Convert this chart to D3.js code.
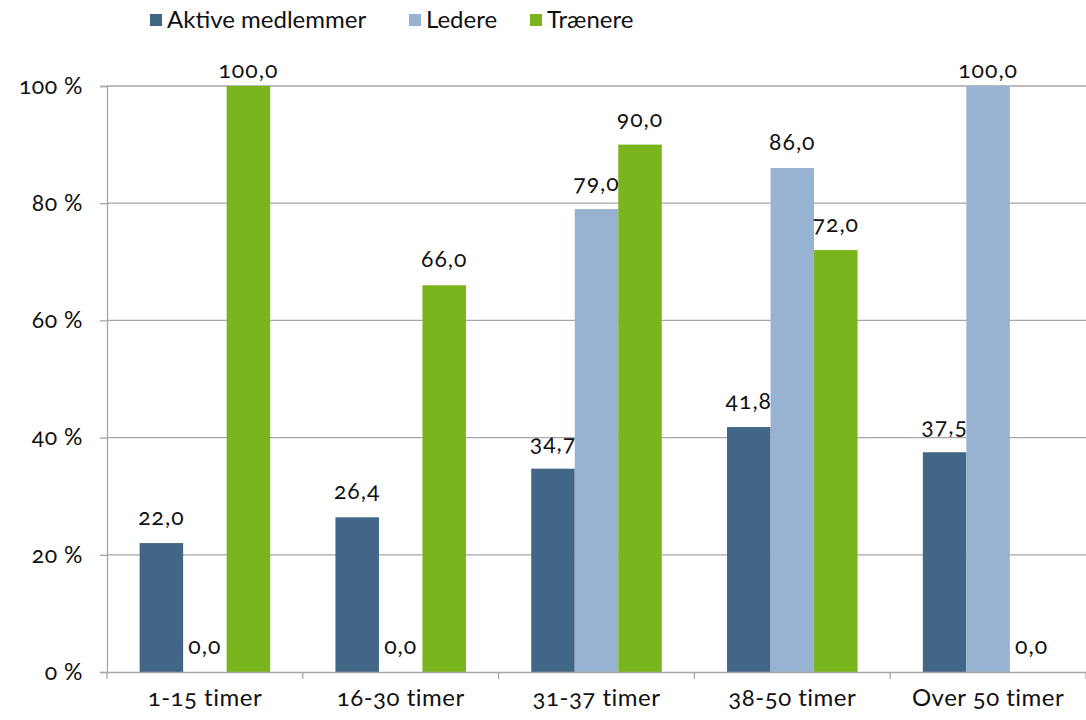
<!DOCTYPE html>
<html>
<head>
<meta charset="utf-8">
<script src="https://cdn.jsdelivr.net/npm/d3@7"></script>
<style>
  body { margin: 0; background: #fff; }
  svg text { font-family: Lato, "Open Sans", sans-serif; font-variant-numeric: oldstyle-nums; fill: #111; }
</style>
</head>
<body>
<div id="chart"></div>
<script>
// Chart data
var categories = ['1-15 timer', '16-30 timer', '31-37 timer', '38-50 timer', 'Over 50 timer'];
var seriesNames = ['Aktive medlemmer', 'Ledere', 'Trænere'];
var aktive = [22.0, 26.4, 34.7, 41.8, 37.5];
var ledere = [0.0, 0.0, 79.0, 86.0, 100.0];
var traenere = [100.0, 66.0, 90.0, 72.0, 0.0];
var yTicks = [0, 20, 40, 60, 80, 100];
var colors = ['#426686', '#98b2d2', '#7ab51d'];

(function() {
  var w = 1086, h = 720;
  var m = { top: 86, right: 0, bottom: 48, left: 107 };
  var series = [aktive, ledere, traenere];

  var svg = d3.select('#chart').append('svg').attr('width', w).attr('height', h);

  var x = d3.scaleBand().domain(categories).range([m.left, w - m.right]);
  var xi = d3.scaleBand().domain(d3.range(series.length))
    .range([0, x.bandwidth()]).paddingInner(0).paddingOuter(0.75);
  var y = d3.scaleLinear().domain([0, 100]).range([h - m.bottom, m.top]);

  // Gridlines
  svg.append('g').selectAll('line').data(yTicks.filter(function(d) { return d > 0; }))
    .enter().append('line')
    .attr('x1', m.left).attr('x2', w - m.right)
    .attr('y1', function(d) { return y(d); }).attr('y2', function(d) { return y(d); })
    .attr('stroke', '#a6a6a6').attr('stroke-width', 1.3);

  // Y axis
  var yAxis = svg.append('g').attr('transform', 'translate(' + m.left + ',0)')
    .call(d3.axisLeft(y).tickValues(yTicks).tickSize(7).tickPadding(17)
      .tickFormat(function(d) { return d + ' %'; }));
  yAxis.selectAll('line, path').attr('stroke', '#a6a6a6').attr('stroke-width', 1.3);
  yAxis.selectAll('text').attr('font-size', 23).attr('font-family', null).attr('letter-spacing', 0.5);

  // Bars
  var groups = svg.append('g').selectAll('g').data(categories).enter().append('g')
    .attr('transform', function(d) { return 'translate(' + x(d) + ',0)'; });

  groups.selectAll('rect').data(function(d, i) {
      return series.map(function(s, k) { return { k: k, v: s[i] }; });
    })
    .enter().append('rect')
    .attr('x', function(d) { return xi(d.k); })
    .attr('width', xi.bandwidth())
    .attr('y', function(d) { return y(d.v); })
    .attr('height', function(d) { return y(0) - y(d.v); })
    .attr('fill', function(d) { return colors[d.k]; });

  // Value labels (kept inside the chart area at the top)
  groups.selectAll('text').data(function(d, i) {
      return series.map(function(s, k) { return { k: k, v: s[i] }; });
    })
    .enter().append('text')
    .attr('x', function(d) { return xi(d.k) + xi.bandwidth() / 2; })
    .attr('y', function(d) { return Math.max(y(d.v) - 18, m.top - 8); })
    .attr('text-anchor', 'middle')
    .attr('font-size', 23).attr('letter-spacing', 1)
    .text(function(d) { return d.v.toFixed(1).replace('.', ','); });

  // X axis
  var xAxis = svg.append('g').attr('transform', 'translate(0,' + y(0) + ')')
    .call(d3.axisBottom(x).tickSize(0).tickPadding(17));
  xAxis.select('path').attr('stroke', '#a6a6a6').attr('stroke-width', 1.3);
  xAxis.selectAll('text').attr('font-size', 24).attr('font-family', null).attr('letter-spacing', 0.5);
  xAxis.selectAll('.sep').data(categories.concat(['end'])).enter().append('line')
    .attr('x1', function(d, i) { return m.left + i * x.bandwidth(); })
    .attr('x2', function(d, i) { return m.left + i * x.bandwidth(); })
    .attr('y1', 0).attr('y2', 7)
    .attr('stroke', '#a6a6a6').attr('stroke-width', 1.3);

  // Legend
  var legX = [150, 409, 530];
  var legend = svg.append('g').selectAll('g').data(seriesNames).enter().append('g')
    .attr('transform', function(d, i) { return 'translate(' + legX[i] + ',14)'; });
  legend.append('rect').attr('width', 12).attr('height', 12)
    .attr('fill', function(d, i) { return colors[i]; });
  legend.append('text').attr('x', 17).attr('y', 14).attr('font-size', 24)
    .text(function(d) { return d; });
})();
</script>
</body>
</html>
